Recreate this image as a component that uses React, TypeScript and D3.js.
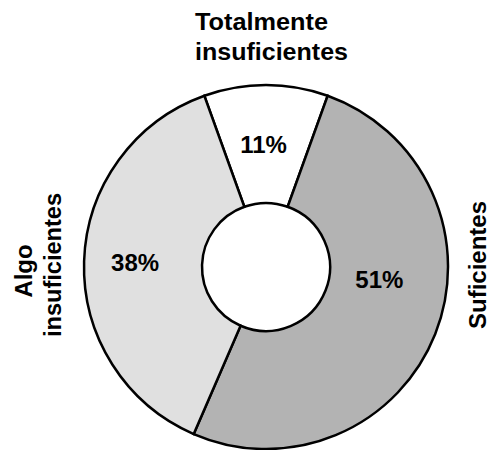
import React from "react";
import * as d3 from "d3";

const categories = ["Totalmente insuficientes", "Suficientes", "Algo insuficientes"];
const values = [11, 51, 38];
const fills = ["#ffffff", "#b3b3b3", "#e0e0e0"];

const width = 493;
const height = 450;
const cx = 266;
const cy = 267;
const outerR = 182;
const innerR = 64;
// per-slice label placement: radius from the centre and an angular nudge (radians)
const labelRadius = [122, 114, 131];
const labelNudge = [-0.02, -0.27, 0.0];

export default function App() {
  const startOffset = -(values[0] / 100) * Math.PI; // centre the first slice at the top
  const pie = d3
    .pie<number>()
    .sort(null)
    .value((d) => d)
    .startAngle(startOffset)
    .endAngle(startOffset + 2 * Math.PI);
  const arcs = pie(values);
  const arcGen = d3.arc<d3.PieArcDatum<number>>().innerRadius(innerR).outerRadius(outerR);

  const font = "Liberation Sans, Arial, sans-serif";

  return (
    <svg
      width={width}
      height={height}
      style={{ position: "absolute", left: 0, top: 0, background: "#fff" }}
      fontFamily={font}
      fontWeight="bold"
    >
      <g transform={`translate(${cx},${cy})`}>
        {arcs.map((a, i) => (
          <path key={categories[i]} d={arcGen(a) || ""} fill={fills[i]} stroke="#000" strokeWidth={2.5} />
        ))}
        {arcs.map((a, i) => {
          const mid = (a.startAngle + a.endAngle) / 2 + labelNudge[i];
          const x = Math.sin(mid) * labelRadius[i];
          const y = -Math.cos(mid) * labelRadius[i];
          return (
            <text key={"l" + i} x={x} y={y} textAnchor="middle" dy="0.35em" fontSize={24} fill="#000">
              {`${values[i]}%`}
            </text>
          );
        })}
      </g>
      <text x={195} y={30} fontSize={23} textLength={133} lengthAdjust="spacingAndGlyphs">Totalmente</text>
      <text x={195} y={60} fontSize={23} textLength={153} lengthAdjust="spacingAndGlyphs">insuficientes</text>
      <text transform="translate(32,271) rotate(-90)" textAnchor="middle" fontSize={24} textLength={53} lengthAdjust="spacingAndGlyphs">Algo</text>
      <text transform="translate(61,265) rotate(-90)" textAnchor="middle" fontSize={24} textLength={144} lengthAdjust="spacingAndGlyphs">insuficientes</text>
      <text transform="translate(486,265) rotate(-90)" textAnchor="middle" fontSize={24} textLength={128} lengthAdjust="spacingAndGlyphs">Suficientes</text>
    </svg>
  );
}
